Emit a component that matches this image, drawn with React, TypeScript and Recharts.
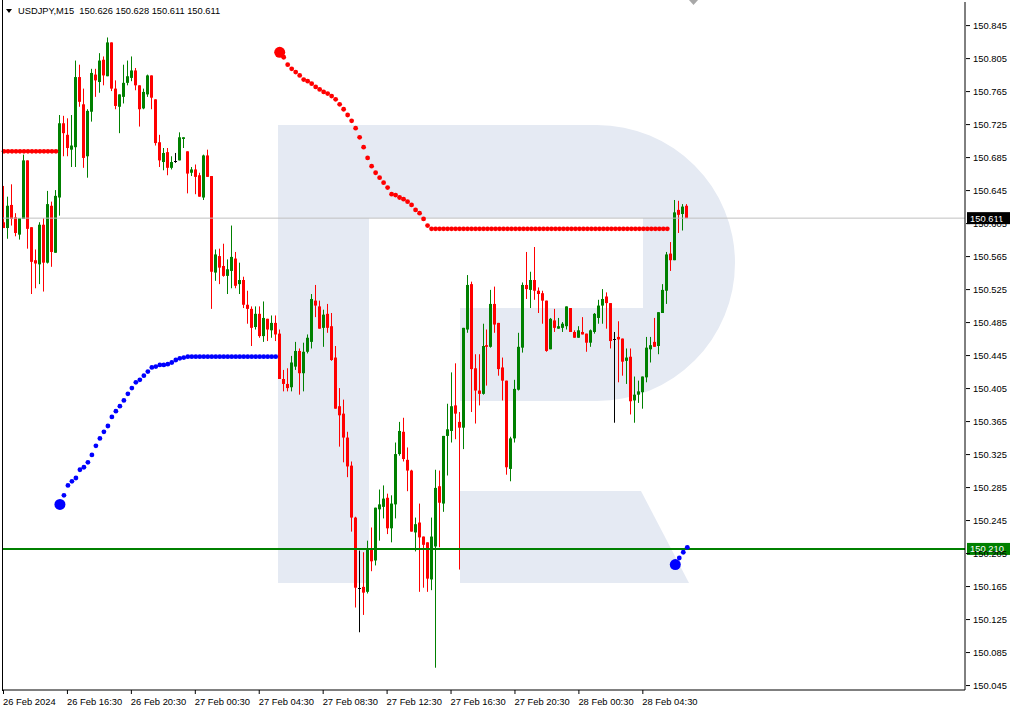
import React from 'react';
import { ComposedChart, Bar, Line, XAxis, YAxis, ReferenceLine } from 'recharts';

const SYMBOL = 'USDJPY,M15';
const SLOTS = 241; // bar slots across the plot, the right part is empty space

const timeLabels = [
  '26 Feb 2024', '26 Feb 16:30', '26 Feb 20:30', '27 Feb 00:30', '27 Feb 04:30', '27 Feb 08:30',
  '27 Feb 12:30', '27 Feb 16:30', '27 Feb 20:30', '28 Feb 00:30', '28 Feb 04:30',
];
const timeLabelBars = [0, 16, 32, 48, 64, 80, 96, 112, 128, 144, 160];

const priceTicks = [
  150.045, 150.085, 150.125, 150.165, 150.205, 150.245, 150.285, 150.325, 150.365, 150.405, 150.445,
  150.485, 150.525, 150.565, 150.605, 150.645, 150.685, 150.725, 150.765, 150.805, 150.845,
];

// open, high, low, close
const candles: [number, number, number, number][] = [
  [150.606, 150.650, 150.599, 150.599], [150.599, 150.637, 150.586, 150.626], [150.627, 150.652, 150.602, 150.610],
  [150.612, 150.617, 150.589, 150.593], [150.591, 150.611, 150.585, 150.611], [150.610, 150.688, 150.610, 150.681],
  [150.681, 150.681, 150.574, 150.598], [150.600, 150.600, 150.519, 150.558], [150.560, 150.573, 150.526, 150.556],
  [150.555, 150.606, 150.531, 150.603], [150.603, 150.611, 150.522, 150.557], [150.557, 150.644, 150.556, 150.628],
  [150.626, 150.631, 150.552, 150.570], [150.569, 150.645, 150.569, 150.638], [150.636, 150.736, 150.614, 150.726],
  [150.726, 150.735, 150.686, 150.714], [150.712, 150.732, 150.686, 150.696], [150.694, 150.736, 150.673, 150.699],
  [150.697, 150.802, 150.673, 150.782], [150.782, 150.797, 150.746, 150.752], [150.749, 150.768, 150.672, 150.684],
  [150.686, 150.743, 150.660, 150.741], [150.740, 150.792, 150.728, 150.787], [150.785, 150.792, 150.758, 150.778],
  [150.776, 150.811, 150.763, 150.802], [150.803, 150.807, 150.772, 150.784], [150.783, 150.830, 150.783, 150.824],
  [150.824, 150.824, 150.765, 150.768], [150.768, 150.778, 150.743, 150.747], [150.746, 150.761, 150.714, 150.761],
  [150.758, 150.797, 150.750, 150.775], [150.775, 150.802, 150.772, 150.783], [150.781, 150.807, 150.777, 150.790],
  [150.790, 150.793, 150.766, 150.772], [150.772, 150.772, 150.722, 150.743], [150.744, 150.768, 150.743, 150.764],
  [150.761, 150.785, 150.758, 150.784], [150.784, 150.784, 150.743, 150.757], [150.755, 150.755, 150.699, 150.702],
  [150.703, 150.712, 150.673, 150.681], [150.679, 150.696, 150.669, 150.690], [150.691, 150.696, 150.663, 150.672],
  [150.672, 150.686, 150.670, 150.679], [150.680, 150.690, 150.678, 150.680], [150.681, 150.715, 150.681, 150.709],
  [150.707, 150.709, 150.696, 150.709], [150.692, 150.692, 150.641, 150.665], [150.666, 150.673, 150.662, 150.670],
  [150.670, 150.676, 150.640, 150.661], [150.663, 150.666, 150.637, 150.637], [150.636, 150.688, 150.633, 150.687],
  [150.687, 150.694, 150.661, 150.661], [150.662, 150.662, 150.501, 150.546], [150.545, 150.573, 150.535, 150.567],
  [150.565, 150.574, 150.531, 150.551], [150.553, 150.580, 150.540, 150.541], [150.541, 150.561, 150.519, 150.549],
  [150.547, 150.602, 150.526, 150.564], [150.562, 150.570, 150.526, 150.529], [150.531, 150.557, 150.519, 150.536],
  [150.536, 150.540, 150.502, 150.506], [150.506, 150.523, 150.483, 150.501], [150.501, 150.504, 150.456, 150.478],
  [150.479, 150.504, 150.476, 150.495], [150.495, 150.504, 150.466, 150.468], [150.468, 150.510, 150.461, 150.490],
  [150.489, 150.489, 150.462, 150.476], [150.475, 150.493, 150.466, 150.484], [150.484, 150.493, 150.462, 150.470],
  [150.471, 150.476, 150.416, 150.416], [150.416, 150.427, 150.401, 150.410], [150.410, 150.429, 150.401, 150.405],
  [150.406, 150.444, 150.401, 150.436], [150.431, 150.461, 150.427, 150.450], [150.450, 150.453, 150.397, 150.423],
  [150.423, 150.460, 150.401, 150.449], [150.449, 150.470, 150.447, 150.466], [150.461, 150.519, 150.453, 150.513],
  [150.511, 150.530, 150.491, 150.505], [150.504, 150.511, 150.477, 150.477], [150.478, 150.500, 150.455, 150.494],
  [150.495, 150.507, 150.472, 150.478], [150.480, 150.496, 150.438, 150.439], [150.442, 150.456, 150.380, 150.380],
  [150.383, 150.405, 150.334, 150.372], [150.374, 150.391, 150.315, 150.345], [150.345, 150.352, 150.297, 150.310],
  [150.311, 150.316, 150.231, 150.248], [150.248, 150.249, 150.139, 150.163], [150.163, 150.208, 150.109, 150.163],
  [150.164, 150.206, 150.130, 150.157], [150.158, 150.220, 150.156, 150.211], [150.211, 150.236, 150.183, 150.195],
  [150.196, 150.260, 150.190, 150.260], [150.258, 150.282, 150.220, 150.264], [150.261, 150.287, 150.247, 150.271],
  [150.272, 150.277, 150.228, 150.235], [150.235, 150.275, 150.218, 150.265], [150.264, 150.339, 150.247, 150.325],
  [150.325, 150.364, 150.323, 150.353], [150.352, 150.369, 150.316, 150.319], [150.318, 150.333, 150.280, 150.305],
  [150.305, 150.306, 150.231, 150.231], [150.230, 150.248, 150.207, 150.240], [150.242, 150.265, 150.158, 150.224],
  [150.225, 150.225, 150.163, 150.215], [150.218, 150.218, 150.158, 150.174], [150.173, 150.248, 150.160, 150.225],
  [150.213, 150.306, 150.066, 150.284], [150.286, 150.305, 150.212, 150.266], [150.265, 150.347, 150.255, 150.347],
  [150.347, 150.386, 150.299, 150.355], [150.353, 150.424, 150.339, 150.383], [150.384, 150.435, 150.343, 150.374],
  [150.364, 150.376, 150.185, 150.357], [150.357, 150.478, 150.331, 150.478], [150.476, 150.542, 150.472, 150.530],
  [150.531, 150.534, 150.376, 150.428], [150.429, 150.446, 150.362, 150.402], [150.402, 150.446, 150.384, 150.398],
  [150.398, 150.483, 150.397, 150.456], [150.457, 150.476, 150.408, 150.455], [150.455, 150.524, 150.454, 150.507],
  [150.507, 150.528, 150.472, 150.482], [150.484, 150.484, 150.420, 150.428], [150.430, 150.442, 150.390, 150.414],
  [150.414, 150.414, 150.300, 150.309], [150.307, 150.346, 150.292, 150.344], [150.344, 150.415, 150.339, 150.404],
  [150.403, 150.472, 150.402, 150.455], [150.454, 150.533, 150.448, 150.530], [150.530, 150.570, 150.513, 150.525],
  [150.524, 150.546, 150.502, 150.536], [150.536, 150.576, 150.512, 150.523], [150.523, 150.527, 150.496, 150.519],
  [150.520, 150.523, 150.483, 150.511], [150.511, 150.511, 150.449, 150.450], [150.452, 150.490, 150.452, 150.489],
  [150.487, 150.501, 150.473, 150.478], [150.477, 150.490, 150.477, 150.480], [150.478, 150.485, 150.473, 150.483],
  [150.480, 150.504, 150.476, 150.504], [150.502, 150.502, 150.473, 150.473], [150.473, 150.475, 150.466, 150.466],
  [150.466, 150.480, 150.466, 150.475], [150.473, 150.491, 150.470, 150.470], [150.471, 150.471, 150.449, 150.460],
  [150.460, 150.476, 150.455, 150.475], [150.473, 150.496, 150.471, 150.495], [150.490, 150.512, 150.483, 150.505],
  [150.505, 150.525, 150.483, 150.513], [150.516, 150.521, 150.477, 150.508], [150.508, 150.508, 150.453, 150.462],
  [150.465, 150.473, 150.363, 150.465], [150.467, 150.486, 150.412, 150.464], [150.465, 150.465, 150.420, 150.437],
  [150.438, 150.453, 150.410, 150.442], [150.443, 150.453, 150.373, 150.389], [150.390, 150.419, 150.363, 150.397],
  [150.397, 150.414, 150.387, 150.401], [150.400, 150.419, 150.380, 150.419], [150.418, 150.467, 150.412, 150.454],
  [150.452, 150.467, 150.436, 150.457], [150.461, 150.490, 150.455, 150.455], [150.456, 150.497, 150.446, 150.497],
  [150.496, 150.531, 150.496, 150.524], [150.523, 150.570, 150.507, 150.567], [150.568, 150.582, 150.547, 150.560],
  [150.560, 150.633, 150.560, 150.618], [150.621, 150.632, 150.593, 150.615], [150.616, 150.628, 150.596, 150.625],
  [150.626, 150.628, 150.611, 150.611],
];

// trailing stop dots (red above price, blue below), each list starts at the given bar
const redLeftStart = 0;
const redLeft = [
  150.692, 150.692, 150.692, 150.692, 150.692, 150.692, 150.692, 150.692, 150.692, 150.692, 150.692, 150.692, 150.692, 150.692,
];
const redTrailStart = 69;
const redTrail = [
  150.812, 150.806, 150.797, 150.792, 150.788, 150.784, 150.779, 150.777, 150.774, 150.770, 150.767, 150.764, 150.762,
  150.759, 150.755, 150.749, 150.743, 150.736, 150.729, 150.720, 150.709, 150.697, 150.684, 150.674, 150.666, 150.660,
  150.654, 150.648, 150.640, 150.639, 150.636, 150.634, 150.631, 150.627, 150.621, 150.617, 150.610, 150.602,
  150.598, 150.598, 150.598, 150.598, 150.598, 150.598, 150.598, 150.598, 150.598, 150.598, 150.598, 150.598, 150.598,
  150.598, 150.598, 150.598, 150.598, 150.598, 150.598, 150.598, 150.598, 150.598, 150.598, 150.598, 150.598, 150.598,
  150.598, 150.598, 150.598, 150.598, 150.598, 150.598, 150.598, 150.598, 150.598, 150.598, 150.598, 150.598, 150.598,
  150.598, 150.598, 150.598, 150.598, 150.598, 150.598, 150.598, 150.598, 150.598, 150.598, 150.598, 150.598, 150.598,
  150.598, 150.598, 150.598, 150.598, 150.598, 150.598, 150.598, 150.598,
];
const blueTrailStart = 14;
const blueTrail = [
  150.264, 150.275, 150.287, 150.292, 150.296, 150.306, 150.309, 150.315, 150.324, 150.335, 150.344, 150.352, 150.359,
  150.370, 150.377, 150.383, 150.390, 150.398, 150.405, 150.412, 150.415, 150.420, 150.425, 150.430, 150.431, 150.433,
  150.433, 150.434, 150.436, 150.439, 150.441, 150.442,
  150.443, 150.443, 150.443, 150.443, 150.443, 150.443, 150.443, 150.443, 150.443, 150.443, 150.443, 150.443,
  150.443, 150.443, 150.443, 150.443, 150.443, 150.443, 150.443, 150.443, 150.443, 150.443, 150.443,
];
const blueRightStart = 168;
const blueRight = [150.191, 150.199, 150.206, 150.212];

const lastPrice = 150.611;
const supportLevel = 150.210;

const FONT = '"Liberation Sans", Arial, sans-serif';
const GREEN = '#008000';
const RED = '#ff0000';

const rows: any[] = Array.from({ length: SLOTS }, (_, i) => {
  const c = candles[i];
  const row: any = { i };
  if (c) {
    row.o = c[0]; row.h = c[1]; row.l = c[2]; row.c = c[3];
    row.range = [c[2], c[1]];
  }
  return row;
});
const put = (key: string, start: number, vals: number[]) =>
  vals.forEach((v, k) => { rows[start + k][key] = v; });
put('red', redLeftStart, redLeft);
put('red', redTrailStart, redTrail);
put('blue', blueTrailStart, blueTrail);
put('blue', blueRightStart, blueRight);
const bigDots = new Set([redTrailStart, blueTrailStart, blueRightStart]);

const Candle = (props: any) => {
  const { x, y, width, height, payload } = props;
  if (!payload || payload.o == null) return <g />;
  const { o, h, l, c } = payload;
  const top = Math.min(y, y + height);
  const hh = Math.abs(height);
  const k = h === l ? 0 : hh / (h - l);
  const py = (v: number) => top + (h - v) * k;
  const cx = Math.round(x + width / 2 - 0.5);
  const color = c > o ? GREEN : c < o ? RED : '#000000';
  const bTop = py(Math.max(o, c));
  const bBot = py(Math.min(o, c));
  return (
    <g>
      <line x1={cx + 0.5} x2={cx + 0.5} y1={top} y2={top + hh} stroke={color} strokeWidth={1} />
      {c === o ? (
        <line x1={cx - 1} x2={cx + 2} y1={Math.round(bTop) + 0.5} y2={Math.round(bTop) + 0.5} stroke={color} />
      ) : (
        <rect x={cx - 1} y={bTop} width={3} height={Math.max(1, bBot - bTop)} fill={color} />
      )}
    </g>
  );
};

const makeDot = (color: string) => (props: any) => {
  const { cx, cy, index, value, payload } = props;
  if (value == null || cy == null || isNaN(cy)) return <g key={`n${color}${index}`} />;
  const r = bigDots.has(payload.i) ? 5.5 : 2.4;
  return <circle key={`d${color}${index}`} cx={cx} cy={cy} r={r} fill={color} />;
};

const PriceTick = (props: any) => {
  const { x, y, payload } = props;
  return (
    <g>
      <line x1={x - 7} x2={x - 3} y1={y + 0.5} y2={y + 0.5} stroke="#000" />
      <text x={x + 0} y={y} dy={3.5} fontSize={9.4} fontFamily={FONT} fill="#000" textAnchor="start">
        {payload.value.toFixed(3)}
      </text>
    </g>
  );
};

const TimeTick = (props: any) => {
  const { x, y, payload } = props;
  const k = timeLabelBars.indexOf(payload.value);
  return (
    <g>
      <line x1={x - 0.5} x2={x - 0.5} y1={y - 8} y2={y - 4} stroke="#000" />
      <text x={x - 1} y={y} dy={7} fontSize={9.4} fontFamily={FONT} fill="#000" textAnchor="start">
        {k >= 0 ? timeLabels[k] : ''}
      </text>
    </g>
  );
};

const PriceTag = (props: any) => {
  const { viewBox, fill, text } = props;
  if (!viewBox) return null;
  const x = viewBox.x + viewBox.width + 2;
  const y = viewBox.y;
  return (
    <g>
      <rect x={x} y={y - 6} width={43} height={12} fill={fill} />
      <text x={x + 3} y={y} dy={3.5} fontSize={9.4} fontFamily={FONT} fill="#fff">{text}</text>
    </g>
  );
};

const Watermark = () => (
  <svg width={1012} height={710} style={{ position: 'absolute', left: 0, top: 0 }}>
    <path d="M278,125 H597 A138,138 0 0 1 597,401 H460 V308 H643 V218 H369 V583 H278 Z" fill="#e5eaf3" />
    <path d="M460,491 H641 L689,583 H460 Z" fill="#e5eaf3" />
  </svg>
);

const Overlay = () => (
  <svg width={1012} height={710} style={{ position: 'absolute', left: 0, top: 0, pointerEvents: 'none' }}>
    <line x1={2.5} x2={2.5} y1={0} y2={691} stroke="#000" />
    <polygon points="689,0 698,0 693.5,5" fill="#a8a8a8" />
    <polygon points="6,9 12,9 9,13" fill="#000" />
    <text x={18} y={14} fontSize={9.3} fontFamily={FONT} fill="#000" style={{ whiteSpace: 'pre' }}>
      {`${SYMBOL}  ${candles[candles.length - 1].map((v) => v.toFixed(3)).join(' ')}`}
    </text>
  </svg>
);

export default function App() {
  return (
    <div style={{ position: 'absolute', left: 0, top: 0, width: 1012, height: 710, background: '#fff', overflow: 'hidden' }}>
      <Watermark />
      <div style={{ position: 'absolute', left: 0, top: 0 }}>
        <ComposedChart width={1012} height={710} data={rows} margin={{ top: 2, right: 0, bottom: 0, left: 2 }}>
          <XAxis
            dataKey="i"
            type="category"
            ticks={timeLabelBars}
            interval={0}
            height={20}
            tick={<TimeTick />}
            tickLine={false}
            axisLine={{ stroke: '#000' }}
          />
          <YAxis
            orientation="right"
            type="number"
            domain={[150.039, 150.873]}
            ticks={priceTicks}
            allowDataOverflow
            width={47}
            tick={<PriceTick />}
            tickLine={false}
            axisLine={{ stroke: '#000' }}
          />
          <ReferenceLine y={lastPrice} stroke="#c0c0c0" strokeWidth={1} label={<PriceTag fill="#000" text={lastPrice.toFixed(3)} />} />
          <Bar dataKey="range" barSize={3} shape={<Candle />} isAnimationActive={false} />
          <Line dataKey="red" stroke="none" dot={makeDot(RED)} activeDot={false} isAnimationActive={false} />
          <Line dataKey="blue" stroke="none" dot={makeDot('#0000ff')} activeDot={false} isAnimationActive={false} />
          <ReferenceLine y={supportLevel} stroke={GREEN} strokeWidth={2} label={<PriceTag fill={GREEN} text={supportLevel.toFixed(3)} />} />
        </ComposedChart>
      </div>
      <Overlay />
    </div>
  );
}
